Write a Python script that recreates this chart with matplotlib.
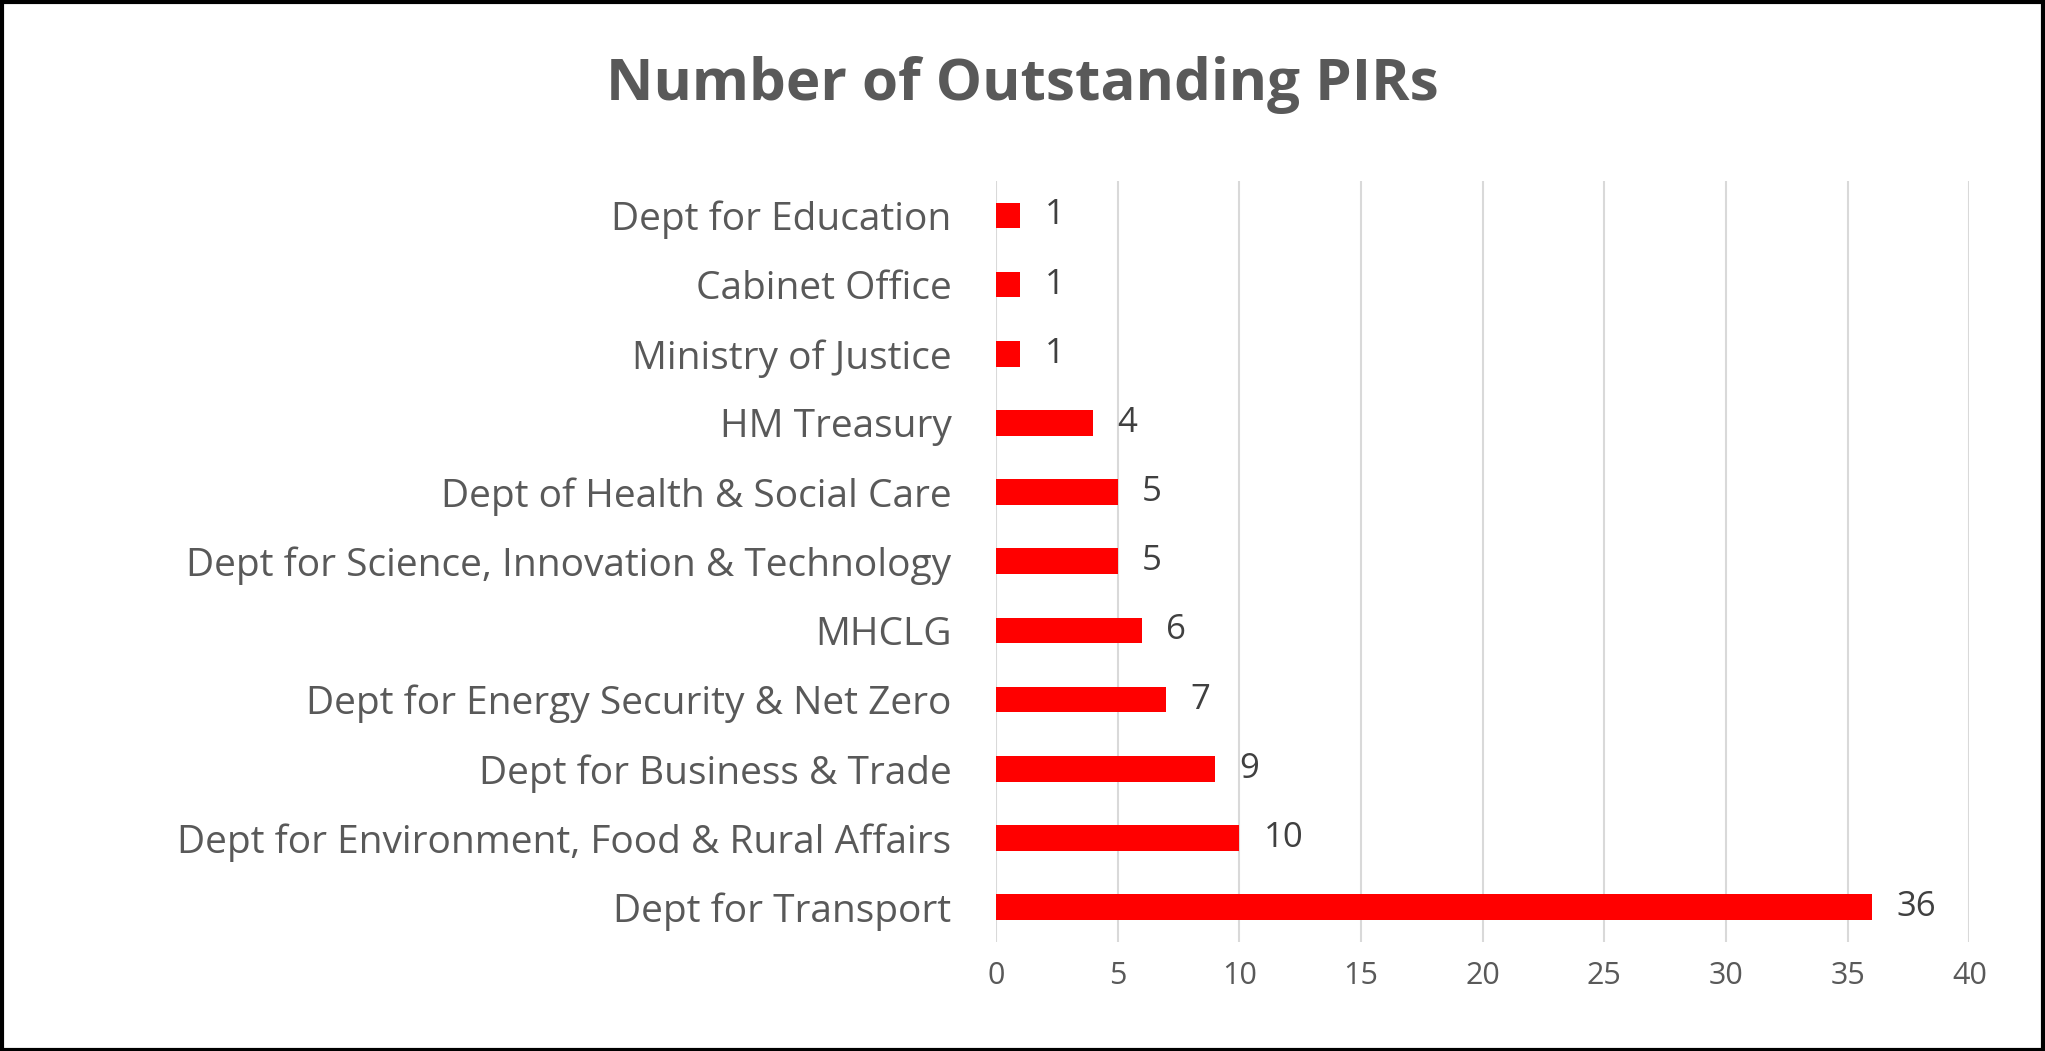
import matplotlib
matplotlib.use("Agg")
import matplotlib.pyplot as plt

categories = ["Dept for Transport", "Dept for Environment, Food & Rural Affairs",
              "Dept for Business & Trade", "Dept for Energy Security & Net Zero",
              "MHCLG", "Dept for Science, Innovation & Technology",
              "Dept of Health & Social Care", "HM Treasury", "Ministry of Justice",
              "Cabinet Office", "Dept for Education"]
values = [36, 10, 9, 7, 6, 5, 5, 4, 1, 1, 1]
xticks = [0, 5, 10, 15, 20, 25, 30, 35, 40]

grey = "#595959"
plt.rcParams['font.family'] = ['Open Sans', 'DejaVu Sans']
fig = plt.figure(figsize=(20.45, 10.51), dpi=100)
fig.patches.append(plt.Rectangle((0.001, 0.001), 0.998, 0.997, transform=fig.transFigure,
                                 fill=False, edgecolor="black", linewidth=3))
ax = fig.add_axes([0.487, 0.104, 0.476, 0.724])
ypos = list(range(len(categories)))
ax.barh(ypos, values, height=0.37, color="#FF0000", zorder=3)
for y, v in zip(ypos, values):
    ax.text(v + 1.0, y, str(v), va="center", ha="left", fontsize=25, color="#404040")
ax.set_yticks(ypos)
ax.set_yticklabels(categories, fontsize=28, color=grey)
ax.set_xticks(xticks)
ax.set_xticklabels([str(t) for t in xticks], fontsize=22, color=grey)
ax.set_xlim(0, 40)
ax.set_ylim(-0.5, len(categories) - 0.5)
ax.grid(axis="x", color="#D9D9D9", linewidth=1.5, zorder=0)
for s in ["top", "right", "bottom", "left"]:
    ax.spines[s].set_visible(False)
ax.tick_params(length=0)
ax.tick_params(axis="y", pad=32)
ax.tick_params(axis="x", pad=14)
fig.text(0.5, 0.919, "Number of Outstanding PIRs", ha="center", va="center",
         fontsize=42, fontweight="bold", color=grey)
fig.savefig("out.png", dpi=100)
